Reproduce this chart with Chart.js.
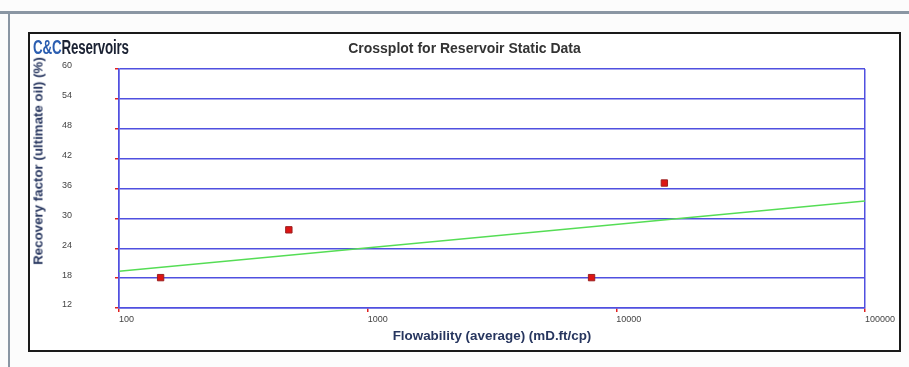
<!DOCTYPE html>
<html>
<head>
<meta charset="utf-8">
<script src="https://cdn.jsdelivr.net/npm/chart.js@4.4.1/dist/chart.umd.min.js"></script>
<style>
  body { margin: 0; background: #fcfcfc; }
  #page { position: relative; width: 909px; height: 367px; overflow: hidden; font-family: "Liberation Sans", Arial, sans-serif; }
  .frame { position: absolute; background: #8a96a3; }
  #box { position: absolute; left: 28px; top: 32px; width: 869px; height: 316px; border: 2px solid #1a1a1a; background: #fff; }
  #crossplot { display: block; width: 869px; height: 316px; }
  #logo { position: absolute; left: 33px; top: 36px; font: bold 20px "Liberation Sans", sans-serif; letter-spacing: -0.3px; color: #1b2233; white-space: nowrap; transform: scaleX(0.67); transform-origin: left top; }
  #logo span { color: #2a5db0; }
  #title { position: absolute; left: 30px; width: 869px; top: 40px; text-align: center; font-weight: bold; font-size: 14px; color: #333; white-space: nowrap; }
  #ytitle { position: absolute; left: 38px; top: 161px; transform: translate(-50%, -50%) rotate(-90deg); font-weight: bold; font-size: 13.3px; color: #27365f; white-space: nowrap; }
</style>
</head>
<body>
<div id="page">
  <div class="frame" style="left:0;top:11px;width:909px;height:3px;"></div>
  <div class="frame" style="left:8px;top:12px;width:2px;height:355px;"></div>
  <div id="box"><canvas id="crossplot" width="869" height="316"></canvas></div>
  <div id="logo"><span>C&amp;C</span>Reservoirs</div>
  <div id="title">Crossplot for Reservoir Static Data</div>
  <div id="ytitle">Recovery factor (ultimate oil) (%)</div>
</div>
<script>
// well data
const flowability = [147, 482, 7950, 15600];
const recoveryFactor = [18.1, 27.7, 18.1, 37.1];

// trend line end points
const trendX = [100, 100000];
const trendY = [19.4, 33.5];

const xTickValues = [100, 1000, 10000, 100000];

const gridBlue = "#5050e0";
const tickRed = "#e02020";

function toPoints(xs, ys) {
    return xs.map((x, i) => ({ x: x, y: ys[i] }));
}

const ctx = document.getElementById("crossplot").getContext("2d");

const crossplotChart = new Chart(ctx, {
    type: "scatter",
    data: {
        datasets: [{
            label: "Trend",
            data: toPoints(trendX, trendY),
            showLine: true,
            borderColor: "#55dd55",
            borderWidth: 1.5,
            pointRadius: 0,
            fill: false,
            order: 2
        }, {
            label: "Wells",
            data: toPoints(flowability, recoveryFactor),
            pointStyle: "rect",
            pointRadius: 4.5,
            backgroundColor: "#dd1414",
            borderColor: "#9a2020",
            borderWidth: 1,
            order: 1
        }]
    },
    options: {
        responsive: false,
        animation: false,
        layout: { padding: { top: 35, right: 34, bottom: 0, left: 32 } },
        plugins: {
            legend: { display: false },
            tooltip: { enabled: false }
        },
        scales: {
            x: {
                type: "logarithmic",
                min: 100,
                max: 100000,
                afterBuildTicks: function(scale) {
                    scale.ticks = xTickValues.map(v => ({ value: v }));
                },
                afterFit: function(scale) { scale.height = 42; },
                border: { color: gridBlue, width: 1.5 },
                grid: {
                    color: function(c) {
                        const v = c.tick ? c.tick.value : 0;
                        return (v === 100 || v === 100000) ? gridBlue : "rgba(0,0,0,0)";
                    },
                    lineWidth: 1.5,
                    tickColor: tickRed,
                    tickLength: 4
                },
                ticks: {
                    align: "start",
                    padding: 2,
                    color: "#444",
                    font: { family: "Liberation Sans", size: 9 },
                    callback: function(value) { return String(value); }
                },
                title: {
                    display: true,
                    text: "Flowability (average) (mD.ft/cp)",
                    color: "#27365f",
                    font: { family: "Liberation Sans", size: 13.4, weight: "bold" },
                    padding: { top: 0, bottom: 6 }
                }
            },
            y: {
                min: 12,
                max: 60,
                afterFit: function(scale) { scale.width = 57; },
                border: { color: gridBlue, width: 1.5 },
                grid: {
                    color: gridBlue,
                    lineWidth: 1.5,
                    tickColor: tickRed,
                    tickLength: 4
                },
                ticks: {
                    stepSize: 6,
                    padding: 3,
                    crossAlign: "far",
                    labelOffset: -3,
                    color: "#444",
                    font: { family: "Liberation Sans", size: 9 }
                }
            }
        }
    }
});
</script>
</body>
</html>
